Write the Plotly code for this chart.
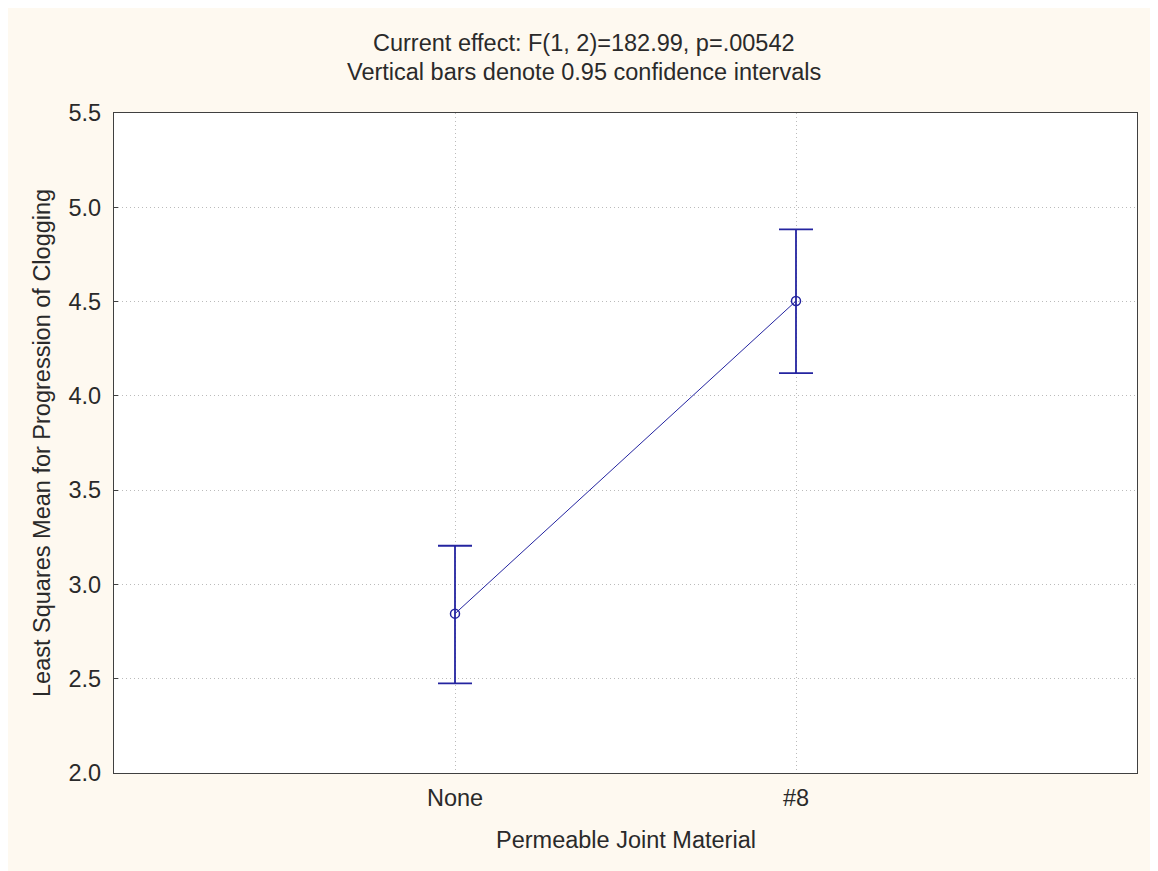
import plotly.graph_objects as go

categories = ["None", "#8"]
cat_pos = [0, 1]
means = [2.845, 4.503]
upper = [3.205, 4.883]
lower = [2.475, 4.121]
y_ticks = [2.0, 2.5, 3.0, 3.5, 4.0, 4.5, 5.0, 5.5]

err_plus = [u - m for u, m in zip(upper, means)]
err_minus = [m - l for m, l in zip(means, lower)]

navy = "#2424A0"
font = "Liberation Sans, Arial, sans-serif"
txt = "#2a2a2a"
fs = 23.5

fig = go.Figure()
fig.add_trace(go.Scatter(
    x=cat_pos, y=means, mode="lines+markers",
    line=dict(color=navy, width=1),
    marker=dict(symbol="circle-open", size=9, color=navy, line=dict(width=1.5, color=navy)),
    error_y=dict(type="data", symmetric=False, array=err_plus, arrayminus=err_minus,
                 color=navy, thickness=1.8, width=17),
    showlegend=False,
))

fig.update_layout(
    width=1158, height=871,
    paper_bgcolor="#FEF9F0", plot_bgcolor="white",
    margin=dict(l=106, r=29, t=105, b=106),
    font=dict(family=font, size=fs, color=txt),
    xaxis=dict(range=[-1, 2], tickvals=cat_pos, ticktext=categories,
               showgrid=True, gridcolor="#BBBBBB", griddash="1px,3px", gridwidth=1,
               showline=True, linecolor="#404040", linewidth=1.2, mirror=True,
               ticks="", zeroline=False, ticklabelstandoff=4,
               tickfont=dict(size=fs, family=font, color=txt)),
    yaxis=dict(range=[2.0, 5.5], tickvals=y_ticks,
               ticktext=[f"{v:.1f}" for v in y_ticks],
               showgrid=True, gridcolor="#BBBBBB", griddash="1px,3px", gridwidth=1,
               showline=True, linecolor="#404040", linewidth=1.2, mirror=True,
               ticks="inside", ticklen=4, tickcolor="#404040", zeroline=False,
               ticklabelstandoff=7,
               tickfont=dict(size=fs, family=font, color=txt)),
    annotations=[
        dict(text="Current effect: F(1, 2)=182.99, p=.00542", xref="paper", yref="paper",
             x=0.4594, y=1.0 + 70 / 660, xanchor="center", yanchor="middle",
             showarrow=False, font=dict(size=fs, family=font, color=txt)),
        dict(text="Vertical bars denote 0.95 confidence intervals", xref="paper", yref="paper",
             x=0.4594, y=1.0 + 41 / 660, xanchor="center", yanchor="middle",
             showarrow=False, font=dict(size=fs, family=font, color=txt)),
        dict(text="Permeable Joint Material", xref="paper", yref="paper",
             x=0.5, y=-67 / 660, xanchor="center", yanchor="middle",
             showarrow=False, font=dict(size=fs, family=font, color=txt)),
        dict(text="Least Squares Mean for Progression of Clogging", xref="paper", yref="paper",
             x=-72 / 1023, y=0.5, xanchor="center", yanchor="middle", textangle=-90,
             showarrow=False, font=dict(size=fs, family=font, color=txt)),
    ],
)

fig.write_html("out.html")
